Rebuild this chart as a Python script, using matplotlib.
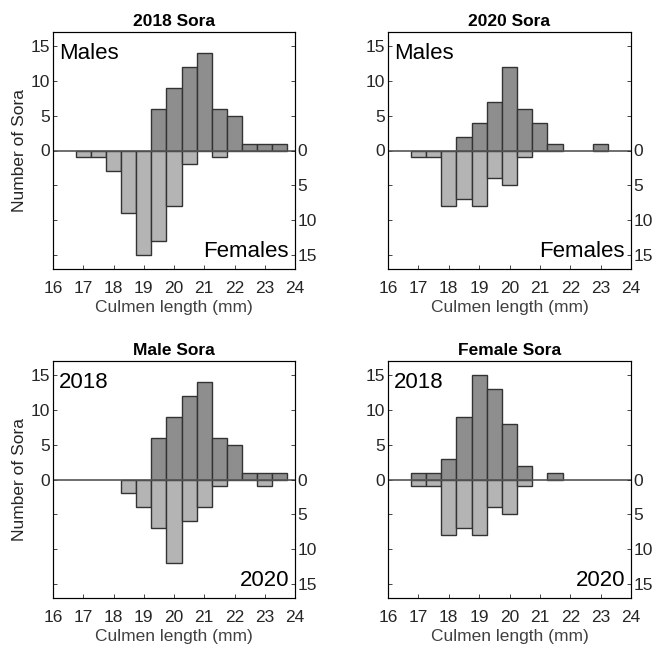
import matplotlib
matplotlib.use("Agg")
import matplotlib.pyplot as plt
import numpy as np

plt.rcParams['font.family'] = ['Liberation Sans', 'DejaVu Sans']

# bin centres (mm), bin width 0.5
centres = [17.0, 17.5, 18.0, 18.5, 19.0, 19.5, 20.0, 20.5, 21.0, 21.5, 22.0, 22.5, 23.0, 23.5]
males_2018 = [0, 0, 0, 0, 0, 6, 9, 12, 14, 6, 5, 1, 1, 1]
females_2018 = [1, 1, 3, 9, 15, 13, 8, 2, 0, 1, 0, 0, 0, 0]
males_2020 = [0, 0, 0, 2, 4, 7, 12, 6, 4, 1, 0, 0, 1, 0]
females_2020 = [1, 1, 8, 7, 8, 4, 5, 1, 0, 0, 0, 0, 0, 0]

panels = [
	("2018 Sora", males_2018, females_2018, "Males", "Females"),
	("2020 Sora", males_2020, females_2020, "Males", "Females"),
	("Male Sora", males_2018, males_2020, "2018", "2020"),
	("Female Sora", females_2018, females_2020, "2018", "2020"),
]

# axes positions in pixels: left, right, top, bottom
boxes = [
	(53, 295, 32, 269),
	(388, 631, 32, 269),
	(53, 295, 361, 598),
	(388, 631, 361, 598),
]

W, H = 654, 649
fig = plt.figure(figsize=(W / 100, H / 100), dpi=100)

dark = '#8e8e8e'
light = '#b4b4b4'
edge = '#333333'
fs = 12.5

for i, (title, up, down, lab_up, lab_down) in enumerate(panels):
	l, r, t, b = boxes[i]
	ax = fig.add_axes([l / W, 1 - b / H, (r - l) / W, (b - t) / H])
	x = np.array(centres)
	up = np.array(up)
	down = np.array(down)
	m = up > 0
	ax.bar(x[m], up[m], width=0.5, color=dark, edgecolor=edge, linewidth=1.0, zorder=2)
	m = down > 0
	ax.bar(x[m], -down[m], width=0.5, color=light, edgecolor=edge, linewidth=1.0, zorder=2)
	ax.axhline(0, color='#555555', linewidth=1.2, zorder=3)

	ax.set_xlim(16, 24)
	ax.set_ylim(-17, 17)
	ax.set_xticks(range(16, 25))
	ax.set_yticks([-15, -10, -5, 0, 5, 10, 15])
	ax.set_yticklabels(['', '', '', '0', '5', '10', '15'])
	ax.tick_params(direction='in', length=3, labelsize=fs, colors='#262626', width=0.6)
	ax.tick_params(axis='x', pad=8.5)
	ax.tick_params(axis='y', pad=2)
	for s in ax.spines.values():
		s.set_color('#262626')
		s.set_linewidth(0.8)

	ax2 = ax.twinx()
	ax2.set_ylim(-17, 17)
	ax2.set_yticks([-15, -10, -5, 0, 5, 10, 15])
	ax2.set_yticklabels(['15', '10', '5', '0', '', '', ''])
	ax2.tick_params(direction='in', length=3, labelsize=fs, colors='#262626', width=0.6, pad=2)

	ax.set_title(title, fontsize=12.5, fontweight='bold', pad=4)
	ax.set_xlabel("Culmen length (mm)", fontsize=fs, color='#404040', labelpad=3)
	if i % 2 == 0:
		ax.set_ylabel("Number of Sora", fontsize=fs, color='#262626', labelpad=3)
	ax.text(0.025, 0.955, lab_up, transform=ax.transAxes, fontsize=16, va='top', ha='left', zorder=5)
	ax.text(0.975, 0.03, lab_down, transform=ax.transAxes, fontsize=16, va='bottom', ha='right', zorder=5)

fig.savefig("out.png", dpi=100)
